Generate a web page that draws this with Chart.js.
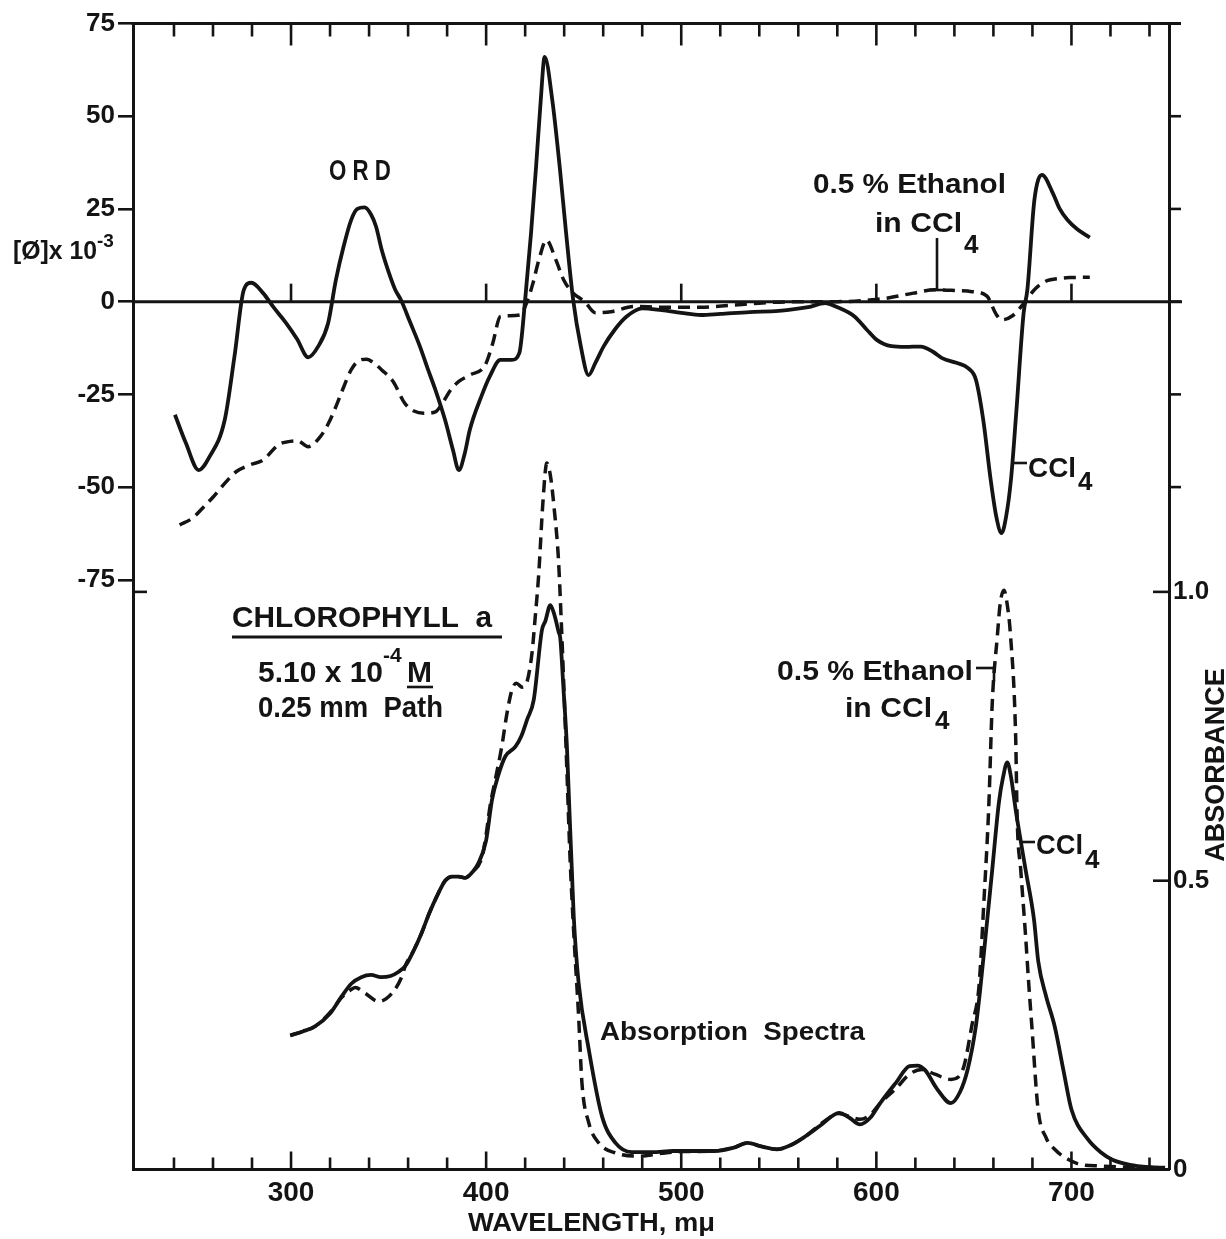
<!DOCTYPE html>
<html><head><meta charset="utf-8">
<script src="https://cdn.jsdelivr.net/npm/chart.js@4.4.1/dist/chart.umd.min.js"></script>
<style>html,body{margin:0;padding:0;background:#fff;}#wrap{width:1226px;height:1239px;}</style>
</head><body><div id="wrap"><canvas id="c" width="1226" height="1239"></canvas></div>
<script>
// ---------- DATA ----------
const WAVELENGTH_TICKS = [240,260,280,300,320,340,360,380,400,420,440,460,480,500,520,540,560,580,600,620,640,660,680,700,720,740];
const WAVELENGTH_LABELS = [300,400,500,600,700];
const ORD_TICKS = [-75,-50,-25,0,25,50,75];
const ORD_RIGHT_TICKS = [-50,-25,0,25,50];
const ABS_TICKS = [0,0.5,1.0];

// ORD, CCl4 (solid)
const ordCCl4Nm  = [240.5,246,252.7,258,266,271,275.8,279.7,285.7,291,297.4,303,308.8,314,319,323,327,330.8,334,337.7,341,343.6,346.5,350,353.4,356.3,361,366,370,374,379,383,386,389,391.6,397.5,402,407.3,413.2,417,420,423,425.6,428,430,433.9,437.7,441,444.6,448.5,452.5,456,460.3,466,472,480,490,500,510,520,535,550,565,573.7,580,588.8,595,600.2,607.7,615,622.8,629,634,641,647.2,651,654.8,658.6,661.5,664.2,666.5,669,671.7,675.5,677.4,681,684.9,690.5,694,698,703,709.4];
const ordCCl4Val = [-30.5,-38,-45.4,-42,-31.9,-14.8,3.2,5.1,2.3,-1.5,-5.7,-10,-15,-12,-5.8,5.9,15,22,25,25.4,23.5,20.2,13.9,8,3.2,0.5,-5.5,-12,-18,-23.8,-32,-40,-45.4,-41,-34.6,-25.6,-20,-15.7,-15.7,-13.9,0.5,18.4,36.4,54.4,66,54.4,36.4,18.4,0.5,-12,-19.8,-16.5,-12,-7.5,-4,-1.8,-2.3,-3.0,-3.6,-3.3,-2.8,-2.5,-1.5,-0.4,-1.5,-4,-7.5,-10.3,-12,-12.2,-12.1,-13.5,-15.3,-16.5,-18,-21,-31.9,-48,-58,-62.4,-58,-48,-30,-3,3.2,27.4,34.2,29.2,25,22,19.5,17.3];

// ORD, 0.5% ethanol in CCl4 (dashed)
const ordEthNm  = [242.9,249.4,255,260.2,266,272,279,285.7,293.5,298,303.3,308.8,315,319,323,327,330.8,334.5,338.7,343,346.5,352.4,358.3,363,368.1,374,378,381.8,386,391.6,399.5,403.4,407.3,412,417.2,421,424,427,430.9,435.8,439.7,444.6,450.5,456,464,476,490,510,525,539.7,560,580,598,606,619,630,640,649,656.7,661.3,664.2,669.8,675.5,681,686.8,694.4,700,709.4];
const ordEthVal = [-60.2,-58.4,-55.5,-52.6,-49,-45.8,-44,-42.7,-38.6,-37.8,-37.5,-39.1,-36.4,-33,-28.3,-23,-18.4,-16,-15.5,-16.8,-18.4,-21.6,-27.4,-29.5,-30.1,-29.7,-27,-23.8,-21.5,-19.8,-17.1,-11.2,-4,-3.8,-3.6,0,5,11.2,16.6,11.2,5.9,2.3,0,-3,-2.7,-1.3,-1.5,-1.5,-1.0,-0.4,0,0,0.5,1,2.3,3.2,3,2.7,1.5,-3.3,-4.9,-3.8,-0.5,3.2,5.5,6.3,6.5,6.6];

// Absorbance, CCl4 (solid)
const absCCl4Nm  = [299.6,306,312.4,320,326,331,336,341,346,351,355,358.5,363,367,371,375.6,379,382.5,386,389.3,393,396,400,403,406,409.8,415,418,421,424.4,428.6,430.4,432.9,435,437.2,438,439.5,441.4,442.7,444,444.9,447.4,452.6,459.4,466.3,474.6,485,495.8,517,527,534,541,549,556,563.9,572,580.9,586,591.6,597,602,610,617,621,625,631,638.2,643,646.8,651,653.4,656,659.4,662.8,665,667.1,669,671.4,676.5,680.8,683,687,691.4,696,700,708.5,715,721,730,740,748];
const absCCl4Val = [0.232,0.239,0.248,0.27,0.300,0.322,0.333,0.337,0.333,0.335,0.342,0.352,0.38,0.41,0.445,0.479,0.5,0.507,0.507,0.505,0.515,0.53,0.57,0.64,0.68,0.715,0.732,0.75,0.779,0.813,0.934,0.95,0.977,0.96,0.93,0.92,0.84,0.732,0.62,0.513,0.438,0.323,0.208,0.092,0.046,0.03,0.03,0.032,0.032,0.038,0.046,0.04,0.035,0.042,0.058,0.078,0.098,0.09,0.078,0.09,0.115,0.15,0.179,0.18,0.172,0.14,0.115,0.135,0.173,0.248,0.317,0.404,0.519,0.635,0.68,0.705,0.68,0.623,0.519,0.433,0.36,0.3,0.248,0.17,0.104,0.052,0.03,0.017,0.008,0.004,0.003];

// Absorbance, 0.5% ethanol in CCl4 (dashed)
const absEthNm  = [299.6,306,312.4,320,326,331,332.9,338,344.9,351.7,356.8,358.5,363,367,371,375.6,379,382.5,386,389.3,393,397.8,400,402,404.7,408,410.7,413.2,415.5,418.5,421,423.5,425,427,429,431.1,433,435,437,438.5,440,441.5,443,444.9,447.4,449.1,452.6,457.7,466,478.8,490,500,517,527,534,541,549,556,563.9,572,580.9,586,591.6,597,602,610,617,623.3,630,638.2,642,645,649,652.6,655.1,657.7,659.4,662,663.5,665.4,667,668.8,671.4,672.2,674,676.5,678.2,679.7,682.9,687,691.4,698,704.2,715,730,745];
const absEthVal = [0.232,0.239,0.248,0.272,0.298,0.312,0.315,0.305,0.291,0.305,0.334,0.352,0.38,0.41,0.445,0.479,0.5,0.507,0.507,0.505,0.515,0.54,0.58,0.629,0.675,0.732,0.79,0.83,0.842,0.835,0.845,0.894,0.95,1.033,1.15,1.223,1.2,1.14,1.06,0.95,0.82,0.68,0.54,0.41,0.265,0.15,0.081,0.046,0.029,0.023,0.028,0.031,0.032,0.038,0.046,0.04,0.035,0.042,0.058,0.08,0.097,0.092,0.087,0.095,0.115,0.14,0.165,0.173,0.165,0.156,0.16,0.18,0.25,0.317,0.462,0.635,0.807,0.923,0.98,1.003,0.98,0.923,0.75,0.605,0.519,0.404,0.317,0.248,0.104,0.055,0.035,0.018,0.009,0.006,0.004,0.003];

// ---------- CHART ----------
const FONT = '"Liberation Sans", Arial, sans-serif';
const INK = '#141414';
const pts = (xs, ys) => xs.map((v, i) => ({x: v, y: ys[i]}));

function seg(ctx, x1, y1, x2, y2, w) {
  ctx.lineWidth = w; ctx.beginPath(); ctx.moveTo(x1, y1); ctx.lineTo(x2, y2); ctx.stroke();
}
function measure(ctx, s, size, ls = 0) {
  ctx.save(); ctx.font = `bold ${size}px ${FONT}`; if (ls) ctx.letterSpacing = ls + 'px';
  const w = ctx.measureText(s).width; ctx.restore(); return w;
}
// draw text with baseline-left at (x,y); if target width given, squeeze/stretch horizontally to it. Returns right edge.
function txt(ctx, s, x, y, size, target = 0, ls = 0) {
  const w = measure(ctx, s, size, ls);
  const sx = target ? target / w : 1;
  ctx.save(); ctx.translate(x, y); ctx.scale(sx, 1);
  ctx.font = `bold ${size}px ${FONT}`; ctx.textAlign = 'left'; ctx.textBaseline = 'alphabetic';
  if (ls) ctx.letterSpacing = ls + 'px';
  ctx.fillText(s, 0, 0); ctx.restore();
  return x + w * sx;
}

const decor = {
  id: 'decor',
  afterDraw(chart) {
    const {ctx, chartArea: a, scales: {x, ord, abs}} = chart;
    ctx.save();
    ctx.strokeStyle = INK; ctx.fillStyle = INK; ctx.lineCap = 'butt';
    // top frame line
    seg(ctx, a.left - 1.5, a.top, a.right + 12, a.top, 3);
    // top and bottom inward ticks
    for (const v of WAVELENGTH_TICKS) {
      const px = x.getPixelForValue(v), major = v % 100 === 0;
      seg(ctx, px, a.top, px, a.top + (major ? 22 : 13), 2.6);
      seg(ctx, px, a.bottom, px, a.bottom - (major ? 18 : 12), 2.6);
    }
    // zero line of ORD with upward ticks at hundreds
    const y0 = ord.getPixelForValue(0);
    seg(ctx, a.left, y0, a.right + 13, y0, 3);
    for (const v of WAVELENGTH_LABELS) { const px = x.getPixelForValue(v); seg(ctx, px, y0, px, y0 - 18, 2.6); }
    // right side outward ORD ticks
    for (const v of ORD_RIGHT_TICKS) { const py = ord.getPixelForValue(v); seg(ctx, a.right, py, a.right + 12, py, 2.6); }
    // absorbance inward ticks
    for (const v of [0.5, 1.0]) { const py = abs.getPixelForValue(v); seg(ctx, a.right - 16, py, a.right, py, 2.6); }
    seg(ctx, a.left, abs.getPixelForValue(1.0), a.left + 14, abs.getPixelForValue(1.0), 2.6);

    // ---- texts ----
    let r;
    // left axis unit
    r = txt(ctx, '[Ø]x 10', 13, 259, 25, 84);
    txt(ctx, '-3', r, 247, 19);
    // ORD labels
    txt(ctx, 'ORD', 329, 180, 29, 68, 8);
    txt(ctx, '0.5 % Ethanol', 813, 193, 28, 193);
    r = txt(ctx, 'in CCl', 875, 232, 28, 87);
    txt(ctx, '4', r + 2, 253, 26);
    seg(ctx, 937, 238, 937, 290, 2.6);
    seg(ctx, 929, 290, 945, 290, 2.6);
    seg(ctx, 1014, 463, 1027, 463, 2.6);
    r = txt(ctx, 'CCl', 1028, 477, 28, 48);
    txt(ctx, '4', r + 2, 490, 26);
    // chlorophyll block
    txt(ctx, 'CHLOROPHYLL  a', 232, 627, 30, 260);
    seg(ctx, 232, 637, 502, 637, 3);
    r = txt(ctx, '5.10 x 10', 258, 682, 30, 125);
    txt(ctx, '-4', r, 662, 21);
    txt(ctx, 'M', 407, 682, 29, 25);
    seg(ctx, 407, 687, 433, 687, 2.6);
    txt(ctx, '0.25 mm  Path', 258, 717, 30, 185);
    // absorption labels
    txt(ctx, '0.5 % Ethanol', 777, 680, 28, 196);
    seg(ctx, 976, 668, 995, 668, 2.6);
    seg(ctx, 994, 668, 994, 681, 2.6);
    r = txt(ctx, 'in CCl', 845, 717, 28, 87);
    txt(ctx, '4', r + 3, 729, 26);
    seg(ctx, 1021, 842, 1035, 842, 2.6);
    r = txt(ctx, 'CCl', 1036, 854, 28, 47);
    txt(ctx, '4', r + 2, 868, 26);
    txt(ctx, 'Absorption  Spectra', 600, 1040, 25, 265);
    // axis titles
    txt(ctx, 'WAVELENGTH, mμ', 468, 1231, 25, 247);
    ctx.save();
    ctx.translate(1224, 765); ctx.rotate(-Math.PI / 2);
    ctx.font = `bold 27px ${FONT}`; ctx.textAlign = 'center'; ctx.textBaseline = 'alphabetic';
    ctx.fillText('ABSORBANCE', 0, 0);
    ctx.restore();
    ctx.restore();
  }
};

new Chart(document.getElementById('c'), {
  type: 'line',
  data: {
    datasets: [
      {label: 'ORD CCl4', data: pts(ordCCl4Nm, ordCCl4Val), yAxisID: 'ord', borderColor: INK, borderWidth: 3.8, pointRadius: 0, fill: false, cubicInterpolationMode: 'monotone'},
      {label: 'ORD 0.5% Ethanol in CCl4', data: pts(ordEthNm, ordEthVal), yAxisID: 'ord', borderColor: INK, borderWidth: 3.5, borderDash: [12, 7], pointRadius: 0, fill: false, cubicInterpolationMode: 'monotone'},
      {label: 'Absorbance CCl4', data: pts(absCCl4Nm, absCCl4Val), yAxisID: 'abs', borderColor: INK, borderWidth: 3.8, pointRadius: 0, fill: false, cubicInterpolationMode: 'monotone'},
      {label: 'Absorbance 0.5% Ethanol in CCl4', data: pts(absEthNm, absEthVal), yAxisID: 'abs', borderColor: INK, borderWidth: 3.5, borderDash: [12, 7], pointRadius: 0, fill: false, cubicInterpolationMode: 'monotone'}
    ]
  },
  options: {
    responsive: false, animation: false, devicePixelRatio: 1,
    layout: {padding: {top: 23.5, left: 0, right: 0, bottom: 0}},
    plugins: {legend: {display: false}, tooltip: {enabled: false}},
    scales: {
      x: {
        type: 'linear', position: 'bottom', min: 219, max: 750,
        afterBuildTicks: s => { s.ticks = WAVELENGTH_LABELS.map(v => ({value: v})); },
        afterFit: s => { s.height = 69.5; },
        grid: {display: false, drawTicks: false},
        border: {display: true, color: INK, width: 3},
        ticks: {color: INK, font: {family: FONT, size: 28, weight: 'bold'}, padding: 7, maxRotation: 0, autoSkip: false}
      },
      ord: {
        type: 'linear', position: 'left', min: -234, max: 75,
        afterBuildTicks: s => { s.ticks = ORD_TICKS.map(v => ({value: v})); },
        afterFit: s => { s.width = 133; },
        grid: {display: true, drawOnChartArea: false, drawTicks: true, tickLength: 15, color: INK, lineWidth: 2.6},
        border: {display: true, color: INK, width: 3},
        ticks: {color: INK, font: {family: FONT, size: 26, weight: 'bold'}, padding: 3, autoSkip: false}
      },
      abs: {
        type: 'linear', position: 'right', min: 0, max: 1.984,
        afterBuildTicks: s => { s.ticks = ABS_TICKS.map(v => ({value: v})); },
        afterFit: s => { s.width = 57; },
        grid: {display: false, drawTicks: false},
        border: {display: true, color: INK, width: 3},
        ticks: {color: INK, font: {family: FONT, size: 26, weight: 'bold'}, padding: 4, autoSkip: false,
                callback: v => (v === 0 ? '0' : v.toFixed(1))}
      }
    }
  },
  plugins: [decor]
});
</script></body></html>
